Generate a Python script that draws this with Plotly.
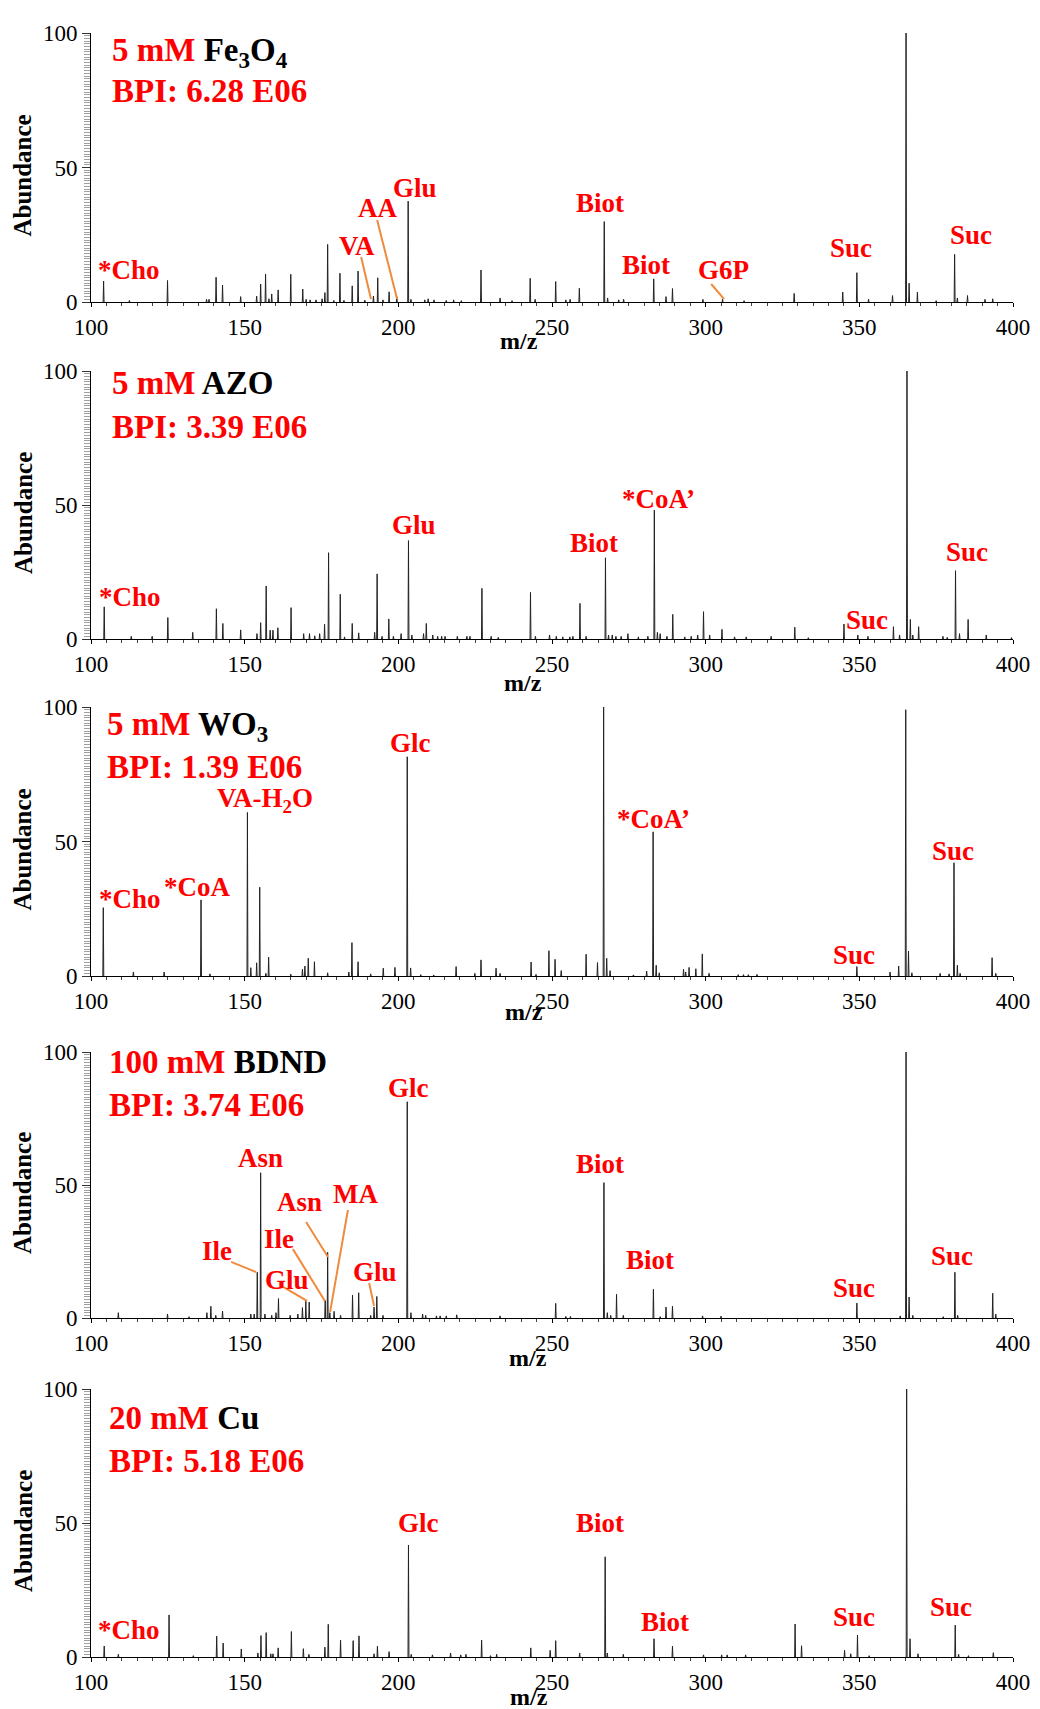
import plotly.graph_objects as go

# ---------------- DATA (m/z, relative abundance) ----------------
fe3o4_mz = [104.1, 112.5, 124.9, 137.6, 138.4, 140.7, 142.8, 148.7, 153.9, 155.2, 156.8, 157.9, 158.8, 160.9,
            165.0, 168.9, 170.0, 171.3, 173.2, 175.2, 176.1, 177.0, 179.0, 181.0, 182.3, 185.0, 186.9, 189.1,
            191.9, 193.3, 195.0, 197.0, 199.5, 203.2, 204.1, 208.6, 209.7, 211.6, 215.6, 218.0, 220.5, 226.9,
            233.1, 237.0, 242.9, 244.5, 251.2, 254.5, 255.9, 258.9, 267.0, 268.1, 271.7, 273.3, 283.1, 287.1,
            289.2, 299.1, 305.5, 312.5, 328.8, 344.6, 349.2, 353.0, 360.8, 365.2, 366.2, 368.9, 375.0, 381.0,
            381.9, 385.2, 390.9, 393.4]
fe3o4_int = [7.8, 0.6, 8.0, 1.0, 1.0, 9.2, 6.3, 2.0, 2.2, 6.7, 10.4, 1.2, 3.0, 4.5,
             10.3, 4.8, 1.0, 0.8, 0.8, 1.2, 3.5, 21.4, 0.6, 10.7, 0.6, 6.0, 11.5, 0.7,
             2.2, 9.0, 0.8, 3.8, 2.0, 37.5, 1.0, 0.8, 1.2, 0.8, 0.6, 0.8, 0.5, 11.9,
             1.5, 0.5, 8.8, 1.0, 7.6, 0.8, 1.0, 5.1, 29.9, 1.5, 0.8, 1.0, 8.6, 2.0,
             5.0, 1.0, 1.0, 0.5, 3.2, 3.7, 10.9, 1.0, 2.4, 100.0, 7.0, 3.7, 0.5, 17.7,
             1.5, 2.4, 1.0, 1.2]

azo_mz = [104.3, 113.1, 119.9, 125.0, 133.1, 140.8, 142.9, 148.7, 154.0, 155.2, 157.0, 158.3, 159.2, 160.8,
          165.1, 169.2, 171.1, 172.8, 174.4, 176.0, 177.3, 181.1, 182.5, 185.0, 187.1, 192.3, 193.1, 194.7,
          196.9, 198.4, 200.9, 203.3, 204.4, 208.2, 209.1, 211.2, 212.8, 214.1, 215.2, 219.2, 222.3, 223.3,
          227.2, 230.2, 232.5, 243.0, 244.6, 249.2, 251.4, 253.5, 255.8, 256.8, 259.1, 261.1, 267.4, 268.4,
          269.6, 270.8, 272.5, 274.7, 278.1, 281.2, 283.3, 284.3, 285.2, 287.4, 289.3, 293.2, 295.3, 297.4,
          299.3, 301.3, 305.3, 309.4, 313.2, 321.3, 329.0, 333.4, 345.0, 349.5, 352.8, 361.1, 363.1, 365.5,
          366.6, 367.4, 369.3, 377.2, 378.6, 381.3, 382.6, 385.4, 391.3, 399.5]
azo_int = [12.0, 1.0, 1.0, 8.0, 2.5, 11.3, 5.8, 3.4, 2.0, 6.1, 19.8, 3.3, 3.3, 4.2,
           11.7, 2.0, 2.0, 1.2, 2.0, 5.5, 32.2, 16.7, 0.8, 5.8, 2.3, 2.5, 24.3, 1.0,
           7.5, 1.0, 2.0, 36.7, 1.5, 2.0, 5.8, 1.5, 1.0, 1.0, 1.0, 1.0, 1.0, 1.0,
           18.9, 1.0, 0.6, 17.4, 1.0, 1.5, 1.0, 0.8, 0.8, 1.0, 13.3, 1.0, 30.3, 1.5,
           1.5, 1.0, 1.0, 2.0, 0.8, 1.0, 48.1, 2.5, 2.0, 1.0, 9.2, 0.8, 1.0, 1.5,
           10.2, 1.5, 3.6, 0.8, 0.8, 1.0, 4.4, 0.5, 5.6, 1.5, 1.0, 4.6, 1.5, 100.0,
           7.3, 1.5, 4.6, 1.0, 0.6, 25.5, 2.0, 7.3, 1.5, 0.5]

wo3_mz = [104.0, 113.8, 123.8, 135.8, 138.7, 150.9, 152.0, 153.9, 154.9, 156.9, 157.8, 165.0, 168.8, 169.6,
          170.7, 172.7, 177.0, 183.9, 184.9, 186.9, 191.0, 195.1, 198.9, 202.9, 204.0, 207.3, 211.5, 218.8,
          224.9, 226.9, 231.8, 233.1, 243.2, 244.8, 249.0, 251.0, 253.0, 261.1, 264.8, 266.8, 267.8, 268.9,
          276.5, 280.8, 282.9, 283.9, 284.9, 292.8, 293.5, 294.6, 296.8, 298.9, 301.1, 310.6, 312.3, 313.9,
          316.7, 349.2, 360.0, 362.8, 365.1, 366.0, 367.1, 376.3, 379.2, 380.8, 381.9, 382.8, 393.2, 394.4]
wo3_int = [25.4, 1.5, 1.5, 28.3, 0.8, 60.8, 3.1, 4.9, 33.0, 1.0, 7.0, 0.7, 2.5, 3.7,
           6.6, 5.3, 1.2, 1.5, 12.4, 5.3, 0.8, 2.9, 3.2, 81.5, 3.0, 0.5, 0.4, 3.5,
           1.0, 6.0, 2.9, 1.0, 5.2, 0.6, 9.4, 6.2, 2.0, 8.1, 5.0, 100.0, 6.6, 2.0,
           0.4, 1.8, 53.6, 4.0, 1.2, 2.5, 1.5, 3.2, 2.7, 8.2, 1.0, 0.5, 0.5, 0.5,
           0.6, 3.5, 1.5, 3.7, 99.0, 9.3, 1.2, 1.0, 0.8, 42.1, 4.0, 1.0, 6.8, 1.0]

bdnd_mz = [108.9, 124.9, 131.9, 137.7, 139.0, 140.6, 142.8, 152.0, 153.1, 154.1, 155.2, 156.6, 158.8, 160.2,
           161.0, 164.8, 167.3, 168.8, 169.9, 171.0, 176.2, 177.0, 177.7, 179.1, 181.2, 185.1, 187.1, 191.0,
           192.1, 193.0, 195.0, 202.9, 204.1, 207.9, 208.9, 212.4, 213.6, 215.6, 219.0, 233.1, 251.2, 254.5,
           256.0, 266.9, 268.0, 269.1, 271.0, 273.2, 283.0, 285.2, 287.1, 289.2, 299.0, 305.0, 349.2, 363.3,
           365.2, 366.2, 367.4, 377.3, 381.1, 382.0, 393.4, 394.4]
bdnd_int = [2.0, 1.5, 0.5, 2.0, 4.4, 1.0, 2.6, 1.5, 1.5, 17.2, 54.6, 1.5, 1.0, 2.0,
            7.3, 1.0, 1.5, 3.9, 6.3, 6.0, 6.6, 24.7, 2.0, 2.5, 1.0, 8.6, 9.5, 1.0,
            4.1, 8.1, 1.0, 81.3, 2.0, 1.5, 1.0, 0.8, 0.8, 0.8, 1.2, 0.8, 5.5, 0.6,
            0.6, 50.9, 2.0, 1.0, 8.9, 1.0, 10.8, 0.5, 4.1, 4.4, 0.8, 0.7, 5.6, 0.8,
            100.0, 7.9, 1.0, 0.5, 17.2, 1.0, 9.3, 1.5]

cu_mz = [104.3, 108.9, 125.4, 133.3, 140.9, 143.0, 148.9, 154.3, 155.3, 157.0, 158.5, 159.2, 160.9, 165.2,
         169.1, 170.9, 176.1, 177.2, 181.2, 185.3, 187.2, 192.1, 193.2, 197.0, 203.3, 204.2, 211.1, 217.0,
         220.3, 222.0, 227.1, 230.0, 232.0, 243.1, 249.4, 251.2, 259.0, 267.3, 268.0, 273.2, 283.2, 289.2,
         299.3, 305.2, 307.0, 313.0, 329.1, 331.2, 345.2, 347.2, 349.4, 353.2, 365.4, 366.5, 369.1, 381.2,
         382.3, 385.5, 393.6]
cu_int = [4.1, 1.0, 15.7, 0.5, 7.8, 5.2, 3.0, 1.5, 8.0, 9.1, 1.2, 1.2, 3.4, 9.5,
          3.1, 1.0, 3.7, 12.2, 6.3, 6.1, 7.9, 1.2, 4.0, 2.0, 41.8, 1.0, 0.8, 1.5,
          0.8, 1.0, 6.3, 0.5, 1.0, 3.4, 2.5, 6.1, 1.5, 37.4, 1.5, 1.0, 6.8, 4.0,
          0.8, 0.8, 0.8, 0.8, 12.3, 4.2, 2.5, 1.2, 8.2, 0.5, 100.0, 6.8, 1.2, 11.9,
          1.0, 0.5, 1.6]

panel_conc = ["5 mM", "5 mM", "5 mM", "100 mM", "20 mM"]
panel_material = ["Fe<sub>3</sub>O<sub>4</sub>", "AZO", "WO<sub>3</sub>", "BDND", "Cu"]
panel_bpi = ["BPI: 6.28 E06", "BPI: 3.39 E06", "BPI: 1.39 E06", "BPI: 3.74 E06", "BPI: 5.18 E06"]
spectra = [(fe3o4_mz, fe3o4_int), (azo_mz, azo_int), (wo3_mz, wo3_int), (bdnd_mz, bdnd_int), (cu_mz, cu_int)]

x_ticks = [100, 150, 200, 250, 300, 350, 400]
y_ticks = [0, 50, 100]

# peak labels: (text, m/z position, abundance position)
peak_labels = [
    [("*Cho", 112.4, 11.9), ("VA", 186.6, 20.8), ("AA", 193.1, 34.9), ("Glu", 205.4, 42.4),
     ("Biot", 265.6, 36.8), ("Biot", 280.6, 13.8), ("G6P", 305.7, 11.9),
     ("Suc", 347.3, 20.1), ("Suc", 364.6, 105.9), ("Suc", 386.4, 24.9)],
    [("*Cho", 112.7, 15.7), ("Glu", 205.1, 42.5), ("Biot", 263.7, 35.8), ("*CoA’", 284.5, 52.2),
     ("Suc", 352.5, 7.1), ("Suc", 364.6, 106.0), ("Suc", 385.1, 32.5)],
    [("*Cho", 112.7, 28.6), ("*CoA", 134.5, 33.1), ("VA-H<sub>2</sub>O", 156.6, 65.4), ("Glc", 203.8, 86.6),
     ("Biot", 268.9, 104.8), ("*CoA’", 282.9, 58.4), ("Suc", 348.3, 7.8), ("Suc", 364.6, 103.7),
     ("Suc", 380.5, 46.5)],
    [("Asn", 155.0, 60.2), ("Ile", 141.0, 25.2), ("Ile", 161.2, 29.7), ("Glu", 163.8, 14.3),
     ("Asn", 167.7, 43.6), ("MA", 185.9, 46.6), ("Glu", 192.4, 17.3), ("Glc", 203.2, 86.5),
     ("Biot", 265.6, 57.9), ("Biot", 281.9, 21.8), ("Suc", 348.3, 11.3), ("Suc", 364.6, 107.9),
     ("Suc", 380.2, 23.3)],
    [("*Cho", 112.4, 10.1), ("Glc", 206.4, 50.0), ("Biot", 265.6, 50.0), ("Biot", 286.8, 13.1),
     ("Suc", 348.3, 14.9), ("Suc", 363.9, 108.6), ("Suc", 379.9, 18.7)],
]

# ---------------- LAYOUT / STYLE ----------------
PAGE_OFFSET = 8                      # default body margin of the html page
W, H = 1040 - PAGE_OFFSET, 1709 - PAGE_OFFSET
X_LEFT, X_RIGHT = 91 - PAGE_OFFSET, 1013 - PAGE_OFFSET
panel_px = [(33, 302), (371, 639), (707, 976), (1052, 1318), (1389, 1657)]  # (top, bottom) in window pixels
title_pos = [(106.2, 92.9, 78.4), (106.2, 95.5, 79.1), (104.6, 92.6, 77.7), (105.2, 96.2, 80.1), (105.2, 89.2, 73.1)]
# "m/z" title centre as fraction of x-domain / y-domain
mz_title_pos = [(0.464, -0.145), (0.469, -0.164), (0.470, -0.134), (0.474, -0.150), (0.475, -0.149)]
leaders = [
    [(187.9, 16.7, 191.1, 1.1), (193.1, 30.5, 199.6, 1.1), (301.8, 6.7, 306.0, 1.1)],
    [], [],
    [(145.6, 21.1, 153.7, 17.3), (165.7, 25.9, 176.1, 6.4), (162.5, 11.7, 170.3, 6.4),
     (170.0, 36.1, 177.1, 22.9), (183.6, 40.6, 177.8, 2.3), (190.5, 13.2, 192.1, 4.5)],
    [],
]

SERIF = "Liberation Serif"
RED = "#ff0000"
ORANGE = "#f08a3c"

fig = go.Figure()
layout = dict(template="none", width=W, height=H, margin=dict(l=0, r=0, t=0, b=0, pad=0), autosize=False,
              paper_bgcolor="white", plot_bgcolor="white", showlegend=False,
              font=dict(family=SERIF, color="black"))
annotations = []
shapes = []

for i, (mzs, ints) in enumerate(spectra):
    n = i + 1
    xa = "x" if n == 1 else f"x{n}"
    ya = "y" if n == 1 else f"y{n}"
    xs, ys = [], []
    for m, v in zip(mzs, ints):
        xs += [m - 0.15, m, m + 0.15, None]
        ys += [0, v, 0, None]
    fig.add_trace(go.Scatter(x=xs, y=ys, mode="lines", line=dict(color="#222222", width=1),
                             xaxis=xa, yaxis=ya, hoverinfo="skip"))

    top, bot = panel_px[i]
    top -= PAGE_OFFSET
    bot -= PAGE_OFFSET
    ydom = [1 - bot / H, 1 - top / H]
    xdom = [X_LEFT / W, X_RIGHT / W]
    layout[f"xaxis{'' if n == 1 else n}"] = dict(
        domain=xdom, range=[100, 400], anchor=ya, automargin=False, showline=True, linecolor="black",
        linewidth=1, showgrid=False, zeroline=False, tickmode="array", tickvals=x_ticks,
        ticktext=[str(t) for t in x_ticks], ticks="outside", ticklen=4, tickcolor="black",
        tickfont=dict(family=SERIF, size=23, color="black"),
        minor=dict(dtick=5, ticks="outside", ticklen=3, tickcolor="#444", showgrid=False),
        fixedrange=True)
    layout[f"yaxis{'' if n == 1 else n}"] = dict(
        domain=ydom, range=[0, 100], anchor=xa, automargin=False, showline=True, linecolor="black",
        linewidth=1, showgrid=False, zeroline=False, tickmode="array", tickvals=y_ticks,
        ticktext=[str(t) for t in y_ticks], ticks="outside", ticklen=8, tickcolor="#333",
        tickfont=dict(family=SERIF, size=23, color="black"),
        minor=dict(dtick=1, ticks="outside", ticklen=6, tickcolor="#a0a0a0", showgrid=False),
        fixedrange=True)

    # panel titles
    tx, ty1, ty2 = title_pos[i]
    annotations.append(dict(x=tx, y=ty1, xref=xa, yref=ya, xanchor="left", yanchor="middle", showarrow=False,
                            text=f"<b><span style='color:{RED}'>{panel_conc[i]}</span> {panel_material[i]}</b>",
                            font=dict(family=SERIF, size=33, color="black")))
    annotations.append(dict(x=tx, y=ty2, xref=xa, yref=ya, xanchor="left", yanchor="middle", showarrow=False,
                            text=f"<b>{panel_bpi[i]}</b>", font=dict(family=SERIF, size=33, color=RED)))
    # peak labels
    for txt, lx, ly in peak_labels[i]:
        annotations.append(dict(x=lx, y=ly, xref=xa, yref=ya, xanchor="center", yanchor="middle",
                                showarrow=False, text=f"<b>{txt}</b>",
                                font=dict(family=SERIF, size=27, color=RED)))
    # leader lines
    for x0, y0, x1, y1 in leaders[i]:
        shapes.append(dict(type="line", xref=xa, yref=ya, x0=x0, y0=y0, x1=x1, y1=y1,
                           line=dict(color=ORANGE, width=2)))
    # axis titles
    mx, my = mz_title_pos[i]
    annotations.append(dict(x=mx, y=my, xref=f"{xa} domain", yref=f"{ya} domain", xanchor="center",
                            yanchor="middle", showarrow=False,
                            text="<b>m/z</b>", font=dict(family=SERIF, size=24, color="black")))
    annotations.append(dict(x=(23 - PAGE_OFFSET) / W, y=0.47, xref="paper", yref=f"{ya} domain",
                            xanchor="center", yanchor="middle",
                            showarrow=False, text="<b>Abundance</b>", textangle=-90,
                            font=dict(family=SERIF, size=25, color="black")))

layout["annotations"] = annotations
layout["shapes"] = shapes
fig.update_layout(**layout)
fig.write_html("out.html")
